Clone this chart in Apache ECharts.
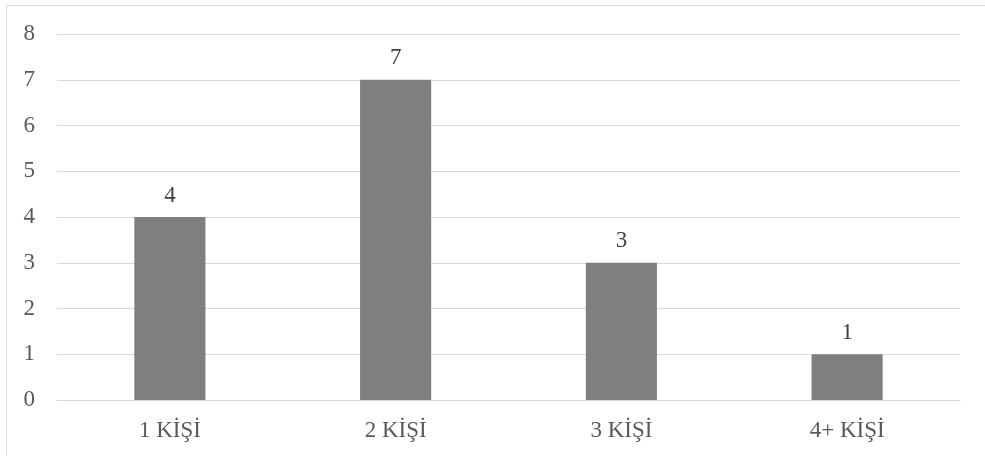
<!DOCTYPE html>
<html><head><meta charset="utf-8">
<script src="https://cdn.jsdelivr.net/npm/echarts@6/dist/echarts.min.js"></script>
<style>html,body{margin:0;padding:0;background:#fff}#c{width:985px;height:456px}</style>
</head><body><div id="c"></div>
<script>
const categories = ['1 KİŞİ', '2 KİŞİ', '3 KİŞİ', '4+ KİŞİ'];
const values = [4, 7, 3, 1];
const yMin = 0, yMax = 8, yStep = 1;

const chart = echarts.init(document.getElementById('c'));
const font = '"Liberation Serif", "Times New Roman", serif';
chart.setOption({
  animation: false,
  textStyle: { fontFamily: font },
  graphic: [{ type: 'rect', shape: { x: 6.5, y: 5.5, width: 1100, height: 600 }, style: { fill: 'none', stroke: '#d9d9d9', lineWidth: 1 } }],
  grid: { left: 57, right: 25, top: 34, bottom: 56 },
  xAxis: {
    type: 'category', data: categories,
    axisLine: { lineStyle: { color: '#d9d9d9' } },
    axisTick: { show: false },
    axisLabel: { color: '#595959', fontSize: 23, fontFamily: font, margin: 19 }
  },
  yAxis: {
    type: 'value', min: yMin, max: yMax, interval: yStep,
    axisLine: { show: false }, axisTick: { show: false },
    splitLine: { lineStyle: { color: '#d9d9d9', width: 1 } },
    axisLabel: { color: '#595959', fontSize: 23, fontFamily: font, margin: 22 }
  },
  series: [{
    type: 'bar', data: values, barWidth: '31.5%',
    itemStyle: { color: '#7f7f7f' },
    label: { show: true, position: 'top', distance: 10, color: '#404040', fontSize: 23, fontFamily: font }
  }]
});
</script></body></html>
